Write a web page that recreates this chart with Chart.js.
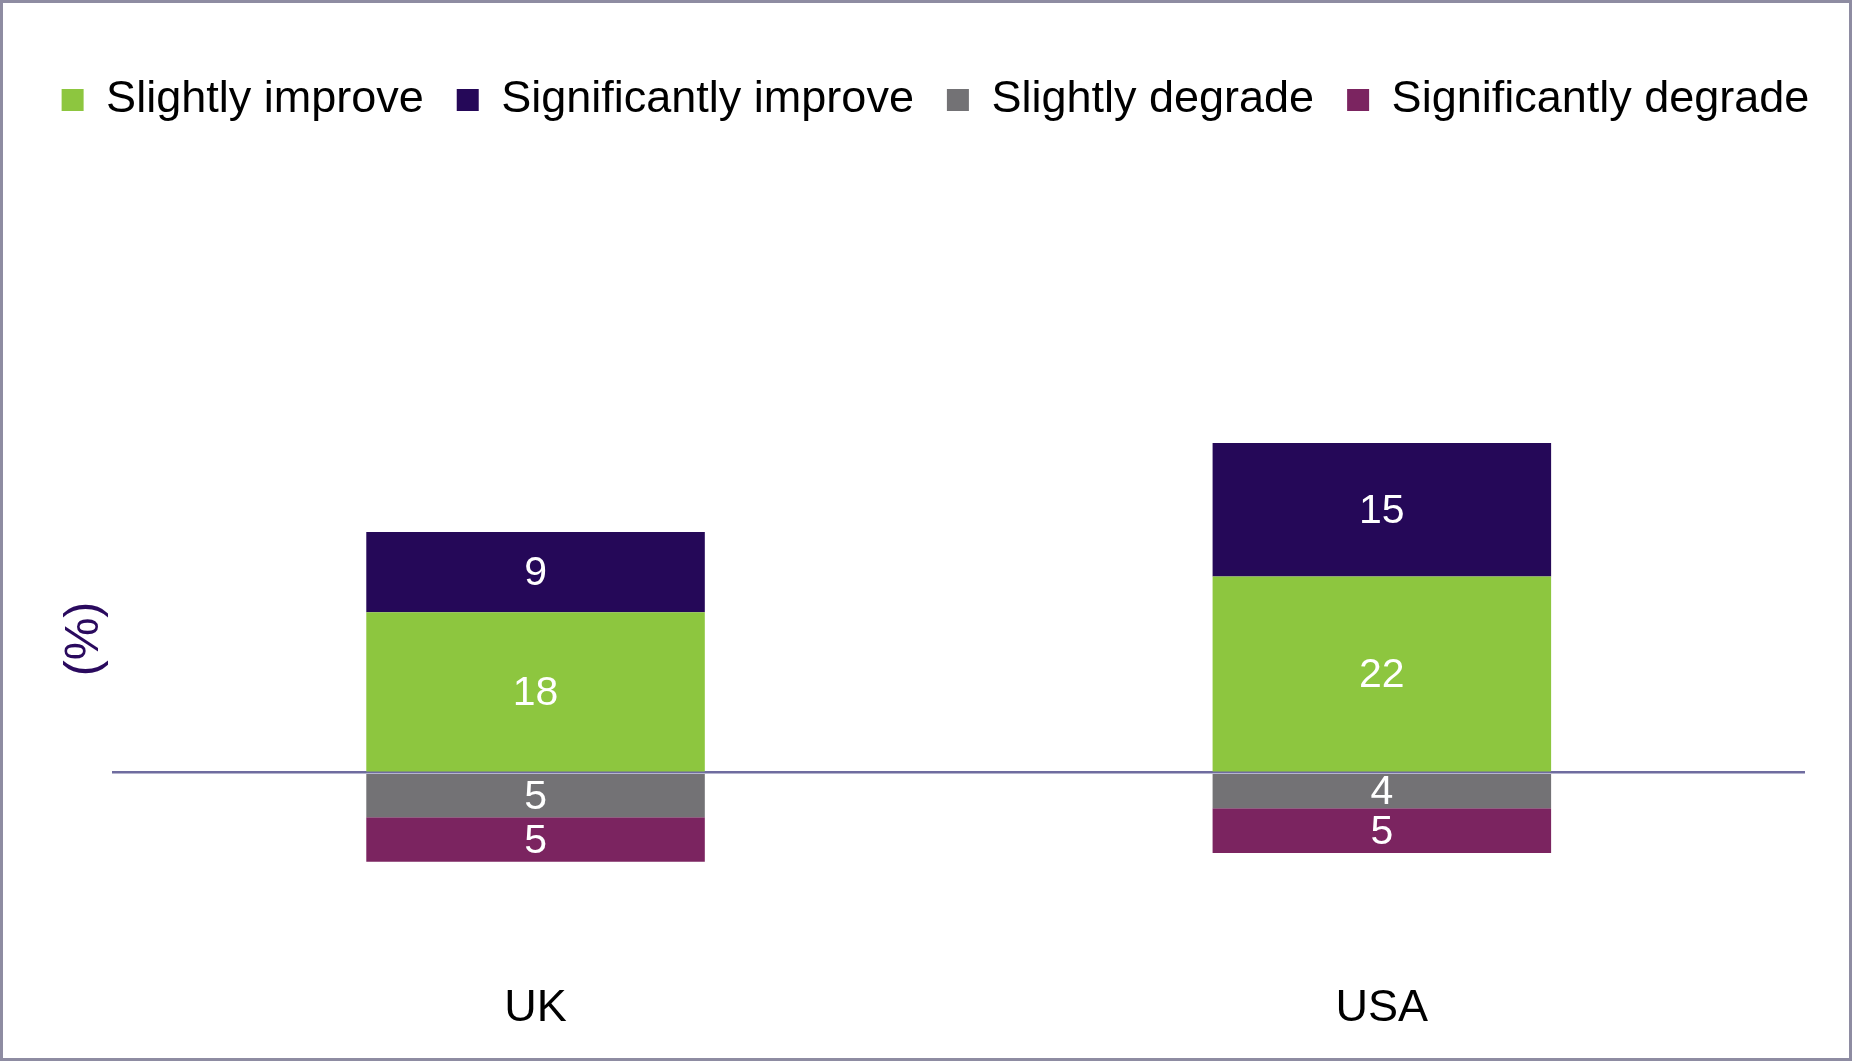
<!DOCTYPE html>
<html>
<head>
<meta charset="utf-8">
<script src="https://cdn.jsdelivr.net/npm/chart.js@4"></script>
<style>
  html, body { margin: 0; padding: 0; background: #fff; }
  #wrap { width: 1852px; height: 1061px; position: relative; }
  #frame { position: absolute; left: 0; top: 0; width: 1852px; height: 1061px; box-sizing: border-box; border: 3px solid #8e8ca2; pointer-events: none; }
</style>
</head>
<body>
<div id="wrap"><canvas id="impactChart"></canvas><div id="frame"></div></div>
<script>
const countries = ["UK", "USA"];
const slightlyImprove = [18, 22];
const significantlyImprove = [9, 15];
const slightlyDegrade = [-5, -4];
const significantlyDegrade = [-5, -5];

Chart.defaults.font.family = "'Liberation Sans', Arial, sans-serif";
Chart.defaults.color = "#000";

// room under the legend + let the one legend row run a bit wider than the box
const legendSpace = {
  id: "legendSpace",
  beforeInit(chart) {
    const lg = chart.legend;
    const fit = lg.fit;
    const draw = lg.draw;
    lg.fit = function () {
      const w = this.maxWidth;
      this.maxWidth = w + 200;
      fit.call(this);
      this.maxWidth = w;
      this.width = w;
      this.height += 194.5;
    };
    lg.draw = function () {
      this.left -= 100;
      this.right += 100;
      draw.call(this);
      this.left += 100;
      this.right -= 100;
    };
  }
};

// white value labels in the middle of each segment
const segmentLabels = {
  id: "segmentLabels",
  afterDatasetsDraw(chart) {
    const ctx = chart.ctx;
    ctx.save();
    ctx.fillStyle = "#fff";
    ctx.font = "41px 'Liberation Sans', Arial, sans-serif";
    ctx.textAlign = "center";
    ctx.textBaseline = "middle";
    chart.data.datasets.forEach((ds, i) => {
      const meta = chart.getDatasetMeta(i);
      meta.data.forEach((bar, j) => {
        const p = bar.getProps(["x", "y", "base"], true);
        ctx.fillText(String(Math.abs(ds.data[j])), p.x, (p.y + p.base) / 2 + 2);
      });
    });
    ctx.restore();
  }
};

new Chart(document.getElementById("impactChart"), {
  type: "bar",
  data: {
    labels: countries,
    datasets: [
      { label: "Slightly improve", data: slightlyImprove, backgroundColor: "#8dc63f" },
      { label: "Significantly improve", data: significantlyImprove, backgroundColor: "#250858" },
      { label: "Slightly degrade", data: slightlyDegrade, backgroundColor: "#737275" },
      { label: "Significantly degrade", data: significantlyDegrade, backgroundColor: "#7b2460" }
    ]
  },
  options: {
    responsive: true,
    maintainAspectRatio: false,
    animation: false,
    layout: { padding: { top: 44.5, left: 66, right: 47, bottom: -6 } },
    datasets: { bar: { barPercentage: 0.4, categoryPercentage: 1 } },
    plugins: {
      legend: {
        position: "top",
        labels: {
          boxWidth: 22,
          boxHeight: 22,
          padding: 33,
          font: { size: 45 },
          color: "#000"
        }
      },
      tooltip: { enabled: false }
    },
    scales: {
      x: {
        stacked: true,
        grid: { display: false, drawTicks: false },
        border: { display: false },
        ticks: { font: { size: 45 }, color: "#000", padding: 31 }
      },
      y: {
        stacked: true,
        min: -20,
        max: 50,
        z: 1,
        ticks: { display: false, stepSize: 10 },
        grid: {
          drawTicks: false,
          lineWidth: 2.5,
          color: c => (c.tick && c.tick.value === 0 ? "#6f6c9f" : "rgba(0,0,0,0)")
        },
        border: { display: false },
        title: {
          display: true,
          text: "(%)",
          color: "#2a0a5e",
          font: { size: 48, lineHeight: 0.8 },
          padding: { top: 0, bottom: 8 }
        }
      }
    }
  },
  plugins: [legendSpace, segmentLabels]
});
</script>
</body>
</html>
